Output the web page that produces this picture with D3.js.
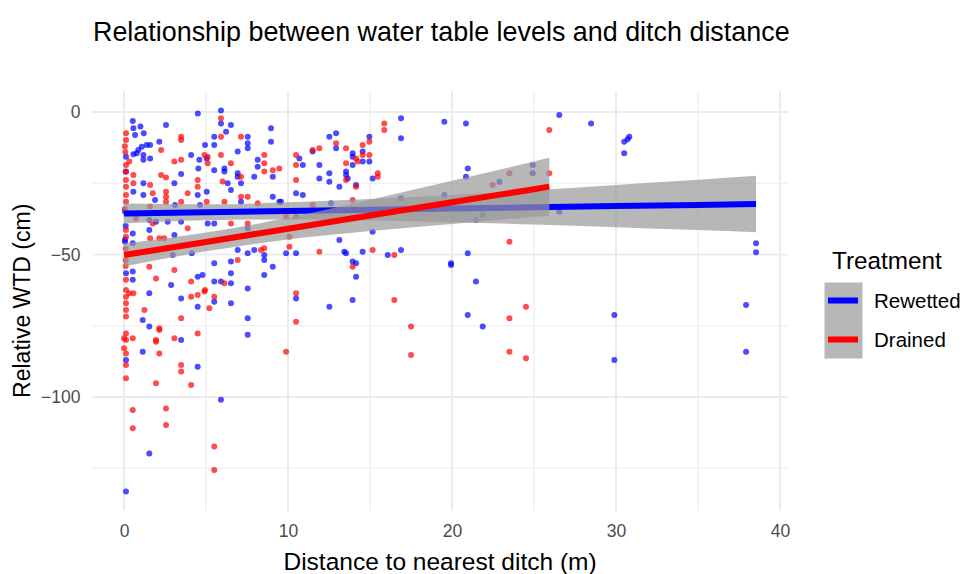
<!DOCTYPE html>
<html>
<head>
<meta charset="utf-8">
<script src="https://cdn.jsdelivr.net/npm/d3@7"></script>
<style>
body { margin: 0; background: #fff; }
text { font-family: "Liberation Sans", Arial, sans-serif; }
</style>
</head>
<body>
<svg width="963" height="574"></svg>
<script>
// points: [distance (m), relative WTD (cm)]
var rewetted = [
[4.5,-0.5],[0.53,-3.2],[1.0,-5.1],[0.57,-5.7],[1.2,-7.5],[0.67,-8.1],[2.56,-4.6],[2.15,-10.4],[1.38,-11.6],[1.08,-12.2],
[0.87,-13.3],[1.59,-11.6],[0.77,-14.5],[1.18,-15.1],[0.57,-14.8],[1.59,-16.3],[1.18,-16.8],[4.94,-11.6],[4.09,-15.1],[4.59,-16.8],
[4.53,-19.8],[5.04,-16.3],[3.48,-21.8],[0.12,-15.7],[0.12,-20.9],[1.18,-25],[3.07,-25],[0.57,-28],[1.18,-29.1],[4.49,-29.1],
[5.04,-28],[1.89,-30.9],[3.11,-32.6],[4.63,-32.6],
[5.91,0.5],[5.91,-4],[6.52,-4.6],[6.22,-6.9],[5.5,-8.7],[7.54,-8.7],[7.54,-11],[7.54,-12.7],[8.96,-5.7],[8.96,-10.4],
[6.93,-13.9],[5.5,-11.6],[8.15,-16.8],[8.15,-19.2],[5.5,-20.4],[6.12,-19.8],[6.12,-20.9],[6.93,-21.5],[6.93,-22.7],[7.94,-22.7],
[9.07,-22.7],[6.32,-25],[6.52,-27.4],[7.13,-25],[7.13,-31.5],[9.07,-29.7],[9.47,-31.5],[10.49,-28.5],[10.9,-29.1],[10.69,-16.3],
[10.9,-18.6],
[0.53,-42.6],[1.54,-41.4],[3.07,-43.2],[0.06,-44.7],[0.06,-45.5],[0.53,-46.1],[1.95,-38.5],[1.54,-37.9],[2.66,-38.5],[3.48,-38.5],
[0.12,-56.6],[0.53,-56],[0.53,-58.9],[2.87,-60.7],[3.48,-65.4],[4.49,-57.8],[4.79,-57.2],[4.49,-68.3],[1.54,-63.6],[1.14,-73],
[1.54,-75.3],[2.97,-50.2],[4.13,-49.6],[0.06,-35],[0.1,-40],
[3.48,-80],[1.14,-84.1],[0.12,-87],[4.49,-89.4],[1.54,-119.8],[0.12,-133.2],[5.91,-101],
[6.93,-48.4],[7.54,-49.6],[7.94,-48.4],[8.55,-50.2],[8.55,-51.9],[9.88,-49.6],[10.49,-49.6],[5.5,-53.1],[6.52,-52.5],[6.52,-56.6],
[9.07,-54.3],[8.55,-57.2],[5.5,-59.5],[5.91,-59.5],[6.52,-60.1],[7.54,-61.9],[5.5,-66.6],[6.52,-67.1],[7.54,-72.4],[7.54,-78.2],
[10.49,-65.4],[5.1,-39.1],[5.5,-39.1],[7.54,-40.8],
[16.89,-2.2],[16.89,-9.2],[19.53,-3.4],[20.85,-4],[12.52,-8.7],[12.93,-7.5],[14.96,-8.7],[12.93,-12.7],[11.5,-13.9],[13.94,-14.5],
[13.94,-15.7],[14.55,-13.9],[11.91,-18.6],[14.55,-17.4],[14.96,-17.4],[13.54,-20.9],[13.54,-22.1],[13.64,-23.3],[13.94,-18.6],[12.52,-21.5],
[11.91,-23.3],[12.52,-24.5],[14.15,-25.6],[13.13,-26.2],[15.16,-23.3],[9.57,-31.5],[12.62,-32],[20.96,-19.8],[20.85,-22.7],[16.89,-30.3],
[22.89,-24.5],[19.53,-29.1],[21.46,-37.9],[21.87,-36.1],[13.13,-44.9],[15.16,-42],[13.43,-49],[13.54,-49.6],[14.55,-49],[13.94,-52.5],
[14.15,-53.1],[14.15,-57.8],[16.08,-50.2],[16.89,-48.4],[19.94,-53.1],[19.94,-53.7],[20.96,-49.6],[21.46,-59.5],[20.96,-71.2],[21.87,-75.3],
[12.52,-68.3],[13.94,-66],
[26.54,-1.1],[28.48,-4],[30.81,-8.7],[30.71,-9.6],[30.5,-10.4],[30.5,-14.5],[24.92,-18.6],[24.92,-21.5],[26.54,-35],[38.54,-46.1],
[38.54,-49.2],[37.93,-67.7],[37.93,-84.1],[29.9,-71.2],[29.9,-87]
];

var drained = [
[0.12,-7.5],[0.12,-9.8],[3.48,-8.7],[3.48,-9.8],[2.26,-13.3],[4.9,-15.1],[0.32,-17.4],[0.12,-18.6],[3.07,-17.4],[3.48,-16.8],
[0.57,-22.1],[2.26,-22.1],[2.56,-23],[0.12,-23.9],[0.12,-26.2],[0.57,-25],[1.59,-25.6],[4.49,-23.9],[4.49,-26.2],[3.88,-28.5],
[2.56,-28],[2.56,-29.7],[2.56,-31.5],[1.75,-28.5],[0.12,-29.1],[0.12,-31.5],[3.48,-31.5],[5.04,-31.5],[1.59,-33.2],
[0.05,-12],[0.08,-14],[0.1,-21],[0.05,-34],
[5.91,-2.2],[5.91,-8.7],[7.13,-8.7],[5.91,-15.1],[5.1,-15.7],[5.1,-18],[6.52,-18],[8.55,-15.1],[8.55,-18],[8.55,-20.9],
[9.07,-20.4],[9.47,-19.8],[7.13,-22.7],[6.01,-24.4],[10.49,-15.1],[10.49,-18.6],[10.49,-23.9],[7.54,-29.7],[7.13,-29.7],[6.12,-31.5],
[8.15,-32],
[0.12,-41.4],[0.12,-43.8],[1.59,-44.3],[2.15,-44.3],[2.45,-44.3],[3.88,-40.8],[1.75,-39.1],[0.73,-37.3],[0.12,-58.9],[0.12,-62.5],
[0.12,-64.8],[0.12,-67.1],[0.12,-69.5],[0.12,-71.8],[0.32,-63.6],[0.57,-63.6],[1.54,-54.3],[1.95,-58.4],[3.07,-55.4],[4.09,-59.5],
[4.09,-64.8],[4.49,-64.2],[4.9,-63],[1.24,-69.5],[3.48,-72.4],[2.15,-75.9],[0.1,-48],[0.1,-52],[0.1,-54],
[0.12,-77.7],[0,-79.4],[0.12,-80],[0.53,-79.4],[2.15,-76.5],[1.95,-80],[1.95,-80.6],[3.07,-79.4],[4.49,-77.7],[0,-82.9],
[0.12,-84.7],[2.15,-84.7],[0.12,-88.8],[0.12,-93.4],[3.48,-88.8],[3.48,-91.1],[1.95,-95.2],[4.09,-95.8],[0.53,-104.6],[2.56,-104],
[0.53,-111],[2.56,-109.8],[5.5,-117.4],[5.5,-125.6],
[6.93,-51.9],[8.35,-48.4],[8.55,-47.8],[10.08,-47.3],[6.12,-60.1],[5.5,-64.8],[5.2,-68.9],[10.49,-63.6],[10.49,-73.6],[6.52,-39.1],
[7.54,-39.1],[4.94,-62.5],
[15.87,-4],[15.87,-6.3],[12.93,-11],[11.5,-13.3],[11.91,-12.7],[13.54,-12.7],[14.55,-11.6],[14.96,-10.4],[13.54,-18],[14.15,-16.3],
[14.25,-17.4],[14.55,-15.1],[14.96,-15.1],[13.54,-23.9],[14.15,-26.2],[15.47,-21.5],[15.47,-22.7],[13.94,-30.9],[22.48,-25.6],[23.5,-21.5],
[11.91,-49],[15.16,-48.4],[16.48,-50.2],[13.94,-54.3],[23.5,-45.5],[16.48,-66],[17.5,-75.3],[17.5,-85.3],[9.88,-84.1],[23.5,-72.4],
[24.51,-68.3],[23.5,-84.1],[24.51,-86.4],[9.88,-36.7],[10.49,-36.7],[10.08,-43.8],[11.5,-32.6],
[25.93,-6.3],[25.93,-21.5]
];

// fitted lines and confidence bands
var rewettedBandX = [0, 5, 10, 15, 20, 25, 30, 35, 38.54];
var rewettedFit   = [-35.6, -35.17, -34.74, -34.31, -33.89, -33.46, -33.03, -32.6, -32.3];
var rewettedLo    = [-39.1, -38.0, -37.7, -38.1, -38.7, -39.5, -40.4, -41.4, -42.2];
var rewettedHi    = [-32.1, -32.4, -31.7, -30.5, -29.1, -27.5, -25.6, -23.8, -22.4];

var drainedBandX = [0, 5, 10, 15, 20, 25, 25.93];
var drainedFit   = [-50.2, -45.6, -40.95, -36.3, -31.7, -27.1, -26.2];
var drainedLo    = [-54.2, -48.9, -44.75, -41.8, -39.3, -36.8, -36.3];
var drainedHi    = [-46.2, -42.3, -37.15, -30.8, -24.1, -17.4, -16.1];

var xMajor = [0, 10, 20, 30, 40], xMinor = [5, 15, 25, 35];
var yMajor = [0, -50, -100], yMinor = [-25, -75, -125];

var svg = d3.select("svg");
var pLeft = 92.4, pRight = 787.7, pTop = 90.9, pBottom = 510.7;

var x = d3.scaleLinear().domain([-1.93, 40.47]).range([pLeft, pRight]);
var y = d3.scaleLinear().domain([-139.9, 7.4]).range([pBottom, pTop]);

// grid
var grid = svg.append("g").attr("stroke", "#ebebeb");
grid.selectAll(".vminor").data(xMinor).enter().append("line")
	.attr("x1", d => x(d)).attr("x2", d => x(d)).attr("y1", pTop).attr("y2", pBottom).attr("stroke-width", 1.1);
grid.selectAll(".hminor").data(yMinor).enter().append("line")
	.attr("y1", d => y(d)).attr("y2", d => y(d)).attr("x1", pLeft).attr("x2", pRight).attr("stroke-width", 1.1);
grid.selectAll(".vmajor").data(xMajor).enter().append("line")
	.attr("x1", d => x(d)).attr("x2", d => x(d)).attr("y1", pTop).attr("y2", pBottom).attr("stroke-width", 2);
grid.selectAll(".hmajor").data(yMajor).enter().append("line")
	.attr("y1", d => y(d)).attr("y2", d => y(d)).attr("x1", pLeft).attr("x2", pRight).attr("stroke-width", 2);

// points
svg.append("g").selectAll("circle").data(rewetted).enter().append("circle")
	.attr("cx", d => x(d[0])).attr("cy", d => y(d[1])).attr("r", 3)
	.attr("fill", "#0000ff").attr("fill-opacity", 0.7);
svg.append("g").selectAll("circle").data(drained).enter().append("circle")
	.attr("cx", d => x(d[0])).attr("cy", d => y(d[1])).attr("r", 3)
	.attr("fill", "#ff0000").attr("fill-opacity", 0.7);

// smooths: ribbon then line, per group
var area = d3.area().x(d => x(d.x)).y0(d => y(d.lo)).y1(d => y(d.hi)).curve(d3.curveMonotoneX);
var line = d3.line().x(d => x(d.x)).y(d => y(d.fit));

function smooth(xs, fit, lo, hi, colour) {
	var rows = xs.map((v, i) => ({x: v, fit: fit[i], lo: lo[i], hi: hi[i]}));
	svg.append("path").datum(rows).attr("d", area)
		.attr("fill", "#999999").attr("fill-opacity", 0.7);
	svg.append("path").datum(rows).attr("d", line)
		.attr("fill", "none").attr("stroke", colour).attr("stroke-width", 6);
}
smooth(rewettedBandX, rewettedFit, rewettedLo, rewettedHi, "#0000ff");
smooth(drainedBandX, drainedFit, drainedLo, drainedHi, "#ff0000");

// axes
var xAxis = svg.append("g")
	.attr("transform", "translate(0," + pBottom + ")")
	.call(d3.axisBottom(x).tickValues(xMajor).tickSize(0).tickPadding(14));
xAxis.select(".domain").remove();
xAxis.selectAll("text").attr("fill", "#4d4d4d").style("font-size", "17.5px");

var yAxis = svg.append("g")
	.attr("transform", "translate(" + pLeft + ",0)")
	.call(d3.axisLeft(y).tickValues(yMajor).tickSize(0).tickPadding(12).tickFormat(d3.format("d")));
yAxis.select(".domain").remove();
yAxis.selectAll("text").attr("fill", "#4d4d4d").style("font-size", "17.5px");

// titles
svg.append("text").attr("x", 93).attr("y", 41).style("font-size", "26.9px")
	.attr("fill", "#000").text("Relationship between water table levels and ditch distance");
svg.append("text").attr("x", (pLeft + pRight) / 2).attr("y", 570).attr("text-anchor", "middle")
	.style("font-size", "24.5px").attr("fill", "#000").text("Distance to nearest ditch (m)");
svg.append("text").attr("transform", "translate(30," + (pTop + pBottom) / 2 + ") rotate(-90)")
	.attr("text-anchor", "middle").style("font-size", "23px").attr("fill", "#000").text("Relative WTD (cm)");

// legend
var legend = svg.append("g");
legend.append("text").attr("x", 832).attr("y", 269).style("font-size", "24.3px").text("Treatment");
legend.append("rect").attr("x", 824.5).attr("y", 282.5).attr("width", 38).attr("height", 76)
	.attr("fill", "#999999").attr("fill-opacity", 0.7);
var keys = [{label: "Rewetted", colour: "#0000ff", y: 300.5}, {label: "Drained", colour: "#ff0000", y: 339.5}];
legend.selectAll(".key").data(keys).enter().append("line")
	.attr("x1", 828).attr("x2", 858).attr("y1", d => d.y).attr("y2", d => d.y)
	.attr("stroke", d => d.colour).attr("stroke-width", 6);
legend.selectAll(".lab").data(keys).enter().append("text")
	.attr("x", 874).attr("y", d => d.y + 7.3).style("font-size", "20.5px").text(d => d.label);
</script>
</body>
</html>
